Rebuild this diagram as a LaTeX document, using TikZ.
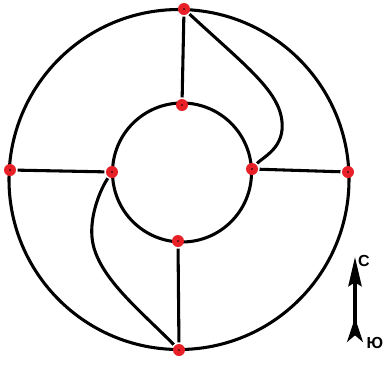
\documentclass[tikz,border=0pt]{standalone}
\usepackage{fontspec}
\setsansfont{Liberation Sans}
\usetikzlibrary{arrows.meta}

\begin{document}
\begin{tikzpicture}[x=0.75pt, y=-0.75pt, line width=2.3pt,
    reddot/.style={circle, fill={rgb,255:red,232;green,32;blue,40}, inner sep=0pt, minimum size=9pt,
      path picture={\fill[black] (path picture bounding box.center) circle (0.6pt);}},
    compass/.style={line width=2.3pt, {Stealth[reversed, length=18pt, width=12pt, inset=5pt]}-{Stealth[length=22pt, width=10pt, inset=3pt]}},
    dirlabel/.style={font=\sffamily\bfseries\large, inner sep=0pt}]
    \useasboundingbox (0,0) rectangle (387,365);

    \coordinate (oc) at (179,179.5);
    \coordinate (ic) at (182,172.5);
    \draw (oc) circle[radius=170];
    \draw (ic) circle[radius=69.5];

    \node[reddot] (n) at (184,9) {};
    \node[reddot] (ni) at (182,105) {};
    \node[reddot] (w) at (10,170) {};
    \node[reddot] (wi) at (112,172) {};
    \node[reddot] (e) at (348,172) {};
    \node[reddot] (ei) at (252,169) {};
    \node[reddot] (s) at (179,350) {};
    \node[reddot] (si) at (178,241) {};

    \draw (n) -- (ni);
    \draw (w) -- (wi);
    \draw (ei) -- (e);
    \draw (si) -- (s);
    \draw (n) .. controls (250,70) and (285,95) .. (282,130) .. controls (280,150) and (262,158) .. (ei);
    \draw (wi) .. controls (100,190) and (90,215) .. (92,237) .. controls (95,275) and (140,310) .. (s);

    \coordinate (tail) at (355,342);
    \coordinate (head) at (355,257);
    \draw[compass] (tail) -- (head);
    \node[dirlabel] (north) at (364,261) {С};
    \node[dirlabel] (south) at (375,343) {Ю};
\end{tikzpicture}
\end{document}
